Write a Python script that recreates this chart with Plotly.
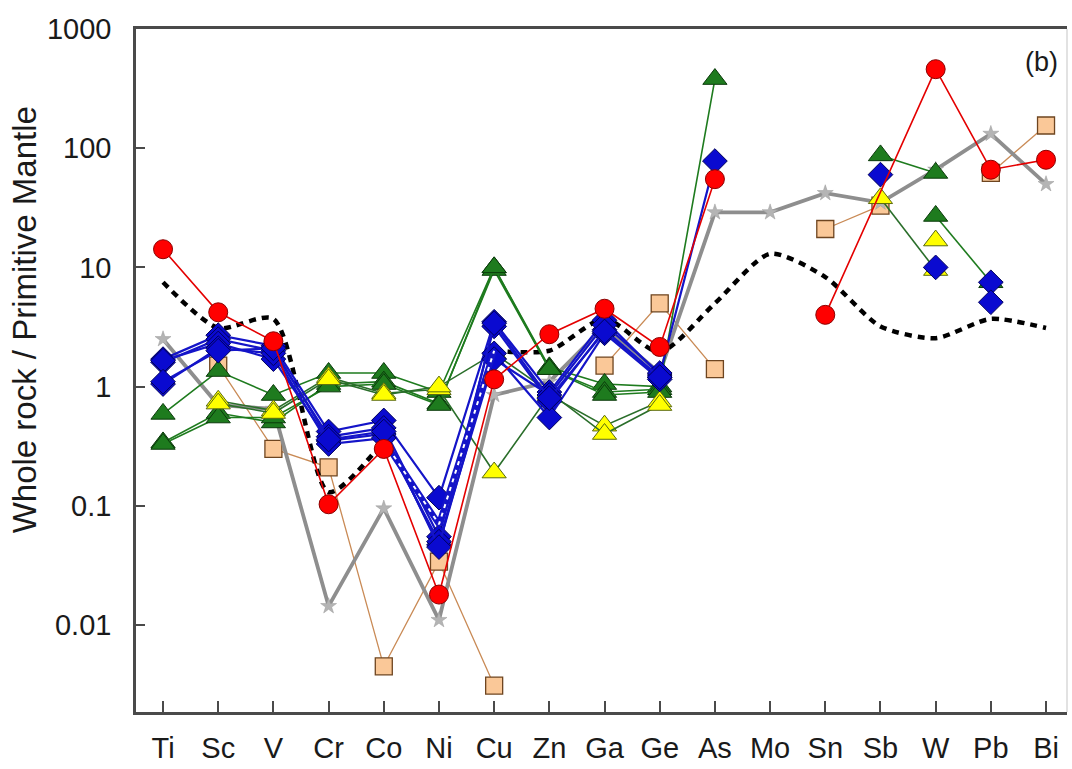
import plotly.graph_objects as go

# Elements along the x axis
ELEMENTS = ["Ti", "Sc", "V", "Cr", "Co", "Ni", "Cu", "Zn", "Ga", "Ge",
            "As", "Mo", "Sn", "Sb", "W", "Pb", "Bi"]

# Primitive-mantle normalised concentrations (None = not determined)
#            Ti    Sc    V     Cr     Co      Ni     Cu      Zn    Ga   Ge   As   Mo    Sn   Sb   W    Pb   Bi
red_s    = [14.2, 4.2,  2.4,  0.103, 0.30,   0.018, 1.15,   2.75, 4.5, 2.15, 55, None, 4.0, None, 460, 66, 80]
tan_s    = [None, 1.5,  0.30, 0.21,  0.0045, 0.034, 0.0031, None, 1.5, 5.0, 1.4, None, 21, 33, None, 62, 155]
gray_s   = [2.5,  0.7,  0.65, 0.0144, 0.095, 0.011, 0.85,   1.1,  3.2, 1.3, 29, 29, 42, 35, 66, 132, 50]
ref_line = [7.5,  3.1,  3.7,  0.13,  0.35,   0.07,  2.0,    2.0,  3.7, 1.95, 5.0, 13, 8.3, 3.2, 2.55, 3.7, 3.1]

blue_1 = [1.7,  2.7, 2.2, 0.42, 0.52, 0.117, 3.5, 0.9,  3.6, 1.25, 78,  None, None, None, None, None, None]
blue_2 = [1.6,  2.5, 2.0, 0.38, 0.45, 0.055, 3.2, 0.75, 3.0, 1.2,  None, None, None, 60,  None, None, None]
blue_3 = [1.65, 2.3, 1.7, 0.35, 0.40, 0.047, 1.9, 0.55, 2.8, 1.15, None, None, None, None, 10,  None, None]
blue_4 = [1.05, 2.1, 1.9, 0.33, 0.37, 0.050, 1.7, 0.85, 3.3, 1.3,  None, None, None, None, None, 7.5, None]
blue_5 = [1.1,  2.0, 2.1, 0.36, 0.42, 0.045, 3.4, 0.8,  2.9, 1.2,  None, None, None, None, None, 5.1, None]

green_1 = [0.59, 1.35, 0.85, 1.3,  1.3,  0.9,  10,  1.45, 1.05, 1.0,  380,  None, None, None, None, None, None]
green_2 = [0.34, 0.60, 0.50, 1.05, 1.1,  0.72, 9.5, 1.4,  0.9,  0.95, None, None, None, 87,   62,   None, None]
green_3 = [0.33, 0.55, 0.55, 1.0,  1.05, 0.70, 10,  1.4,  0.85, 0.9,  None, None, None, None, 27,   7.5,  None]

yellow_1 = [None, 0.76, 0.63, 1.2,  0.88, 0.95, 0.19, 0.85, 0.47, 0.75, None, None, None, 38,   9.5,  None, None]
yellow_2 = [None, 0.72, 0.60, 1.15, 0.85, 1.0,  1.9,  0.9,  0.40, 0.70, None, None, None, None, 16.8, None, None]

Y_TICKS = [0.01, 0.1, 1, 10, 100, 1000]
Y_TICK_TEXT = ["0.01", "0.1", "1", "10", "100", "1000"]

STYLES = {
    "red":    dict(line=dict(color="#E40000", width=1.6),
                   marker=dict(symbol="circle", size=19, color="#FF0000",
                               line=dict(color="#8B0000", width=1))),
    "tan":    dict(line=dict(color="#C98A55", width=1.3),
                   marker=dict(symbol="square", size=17, color="#FAC898",
                               line=dict(color="#6E4520", width=1.3))),
    "gray":   dict(line=dict(color="#8E8E8E", width=3.8),
                   marker=dict(symbol="star", size=12, color="#B4B4B4",
                               line=dict(color="#9A9A9A", width=0.5))),
    "blue":   dict(line=dict(color="#1414C8", width=2.2),
                   marker=dict(symbol="diamond", size=19, color="#0A0AD0",
                               line=dict(color="#00005A", width=1))),
    "green":  dict(line=dict(color="#1E7B1E", width=1.6),
                   marker=dict(symbol="triangle-up", size=21, color="#1E7B1E",
                               line=dict(color="#0B3A0B", width=1))),
    "yellow": dict(line=dict(color="#2A6E2A", width=1.6),
                   marker=dict(symbol="triangle-up", size=21, color="#FFFF00",
                               line=dict(color="#5A6A10", width=1))),
}

fig = go.Figure()


def segments(values, bridge=()):
    """Split a series into runs of consecutive determined values."""
    runs, cur = [], []
    for i, v in enumerate(values):
        if v is None:
            if ELEMENTS[i] in bridge:
                continue
            if cur:
                runs.append(cur)
            cur = []
        else:
            cur.append(i)
    if cur:
        runs.append(cur)
    return runs


def add_series(values, style, bridge=()):
    st = STYLES[style]
    for run in segments(values, bridge):
        if len(run) > 1:
            fig.add_trace(go.Scatter(
                x=[ELEMENTS[i] for i in run], y=[values[i] for i in run],
                mode="lines", line=st["line"], hoverinfo="skip"))
    idx = [i for i, v in enumerate(values) if v is not None]
    fig.add_trace(go.Scatter(
        x=[ELEMENTS[i] for i in idx], y=[values[i] for i in idx],
        mode="markers", marker=st["marker"]))


# reference curve (dotted); the Co-Ni-Cu stretch runs under a blue band
ref_hidden = ("Co", "Cu")
a, b = ELEMENTS.index(ref_hidden[0]), ELEMENTS.index(ref_hidden[1])
ref_style = dict(color="black", width=4.5, dash="7px,6px", shape="spline", smoothing=0.7)

add_series(tan_s, "tan")
add_series(gray_s, "gray")
for part in (range(0, a + 1), range(b, len(ELEMENTS))):
    fig.add_trace(go.Scatter(x=[ELEMENTS[i] for i in part], y=[ref_line[i] for i in part],
                             mode="lines", line=ref_style, hoverinfo="skip"))
for s in (green_1, green_2, green_3):
    add_series(s, "green")
for s in (yellow_1, yellow_2):
    add_series(s, "yellow")
for s in (blue_1, blue_2, blue_3, blue_4, blue_5):
    add_series(s, "blue")
mid = range(a, b + 1)
fig.add_trace(go.Scatter(x=[ELEMENTS[i] for i in mid], y=[ref_line[i] for i in mid],
                         mode="lines", line=dict(color="#1414C8", width=6), hoverinfo="skip"))
fig.add_trace(go.Scatter(x=[ELEMENTS[i] for i in mid], y=[ref_line[i] for i in mid],
                         mode="lines", line=dict(color="white", width=2, dash="4px,5px"),
                         hoverinfo="skip"))
add_series(red_s, "red", bridge=("Sb",))

FONT = "Liberation Sans, Arial, sans-serif"

fig.update_layout(
    width=1072, height=769,
    margin=dict(l=136, r=5, t=29, b=49),
    paper_bgcolor="white", plot_bgcolor="white",
    showlegend=False,
    font=dict(family=FONT, color="#1a1a1a"),
    xaxis=dict(
        type="category", categoryorder="array", categoryarray=ELEMENTS,
        range=[-0.49, 16.38],
        showgrid=False, zeroline=False,
        showline=True, linecolor="#4a4a4a", linewidth=2.5, mirror=True,
        ticks="inside", ticklen=11, tickwidth=2, tickcolor="#4a4a4a",
        tickfont=dict(size=29, family=FONT, color="#1a1a1a"),
        ticklabelstandoff=8,
    ),
    yaxis=dict(
        type="log", range=[-2.73, 3.0],
        tickvals=Y_TICKS, ticktext=Y_TICK_TEXT,
        showgrid=False, zeroline=False,
        showline=True, linecolor="#4a4a4a", linewidth=2.5,
        ticks="inside", ticklen=9, tickwidth=2, tickcolor="#4a4a4a",
        tickfont=dict(size=29, family=FONT, color="#1a1a1a"),
        ticklabelstandoff=16,
    ),
    shapes=[dict(type="line", xref="paper", yref="paper", x0=1, x1=1, y0=0, y1=1,
                 line=dict(color="#d8d8d8", width=1.5))],
    annotations=[
        dict(text="(b)", xref="paper", yref="paper", x=0.973, y=0.952,
             xanchor="center", yanchor="middle",
             showarrow=False, font=dict(size=27, family=FONT, color="#1a1a1a")),
        dict(text="Whole rock / Primitive Mantle", xref="paper", yref="paper",
             x=-0.1195, y=0.5745, xanchor="center", yanchor="middle",
             textangle=-90, showarrow=False,
             font=dict(size=33, family=FONT, color="#1a1a1a")),
    ],
)

fig.write_html("out.html")
